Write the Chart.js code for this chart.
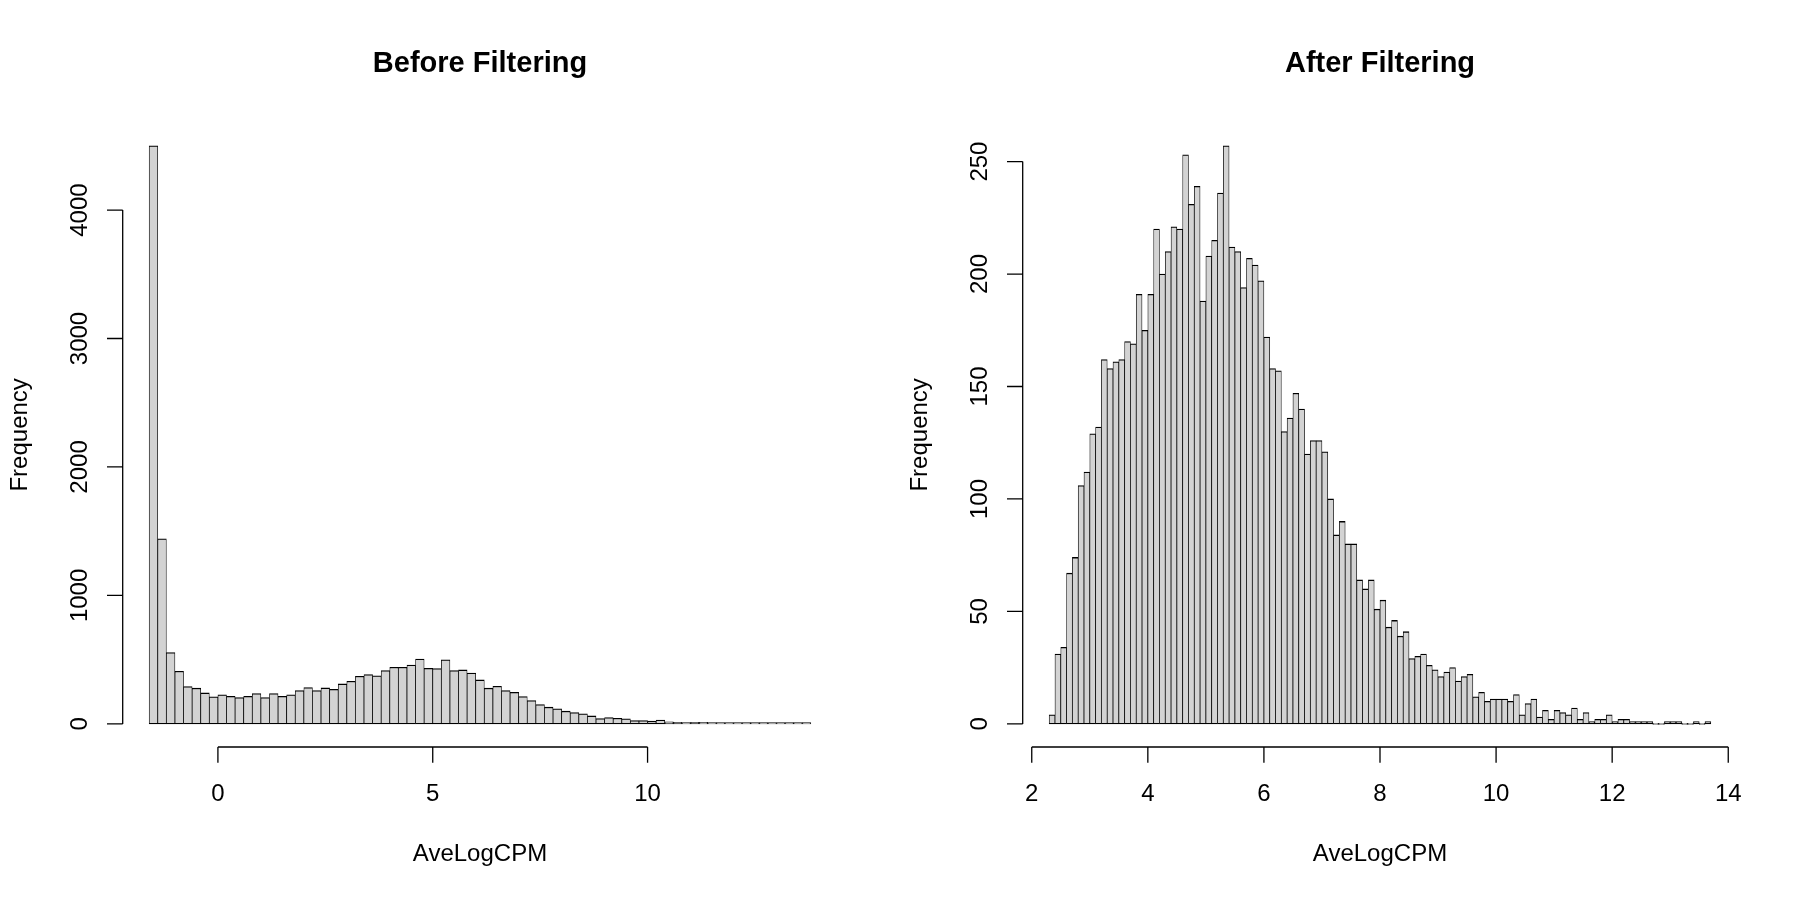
<!DOCTYPE html>
<html>
<head>
<meta charset="utf-8">
<script src="https://cdn.jsdelivr.net/npm/chart.js@4.4.1/dist/chart.umd.min.js"></script>
<style>
  html, body { margin: 0; padding: 0; background: #fff; }
  #wrap { position: relative; width: 1800px; height: 900px; }
  canvas { position: absolute; top: 0; }
</style>
</head>
<body>
<div id="wrap">
  <canvas id="beforeChart" width="900" height="900" style="left:0"></canvas>
  <canvas id="afterChart" width="900" height="900" style="left:900px"></canvas>
</div>
<script>
// histogram bins: first break and bin width
const beforeStart = -1.6;
const beforeBinWidth = 0.2;
const beforeCounts = [4500, 1440, 555, 410, 290, 278, 241, 210, 226, 215,
    205, 215, 236, 205, 236, 215, 226, 259, 283, 259,
    280, 269, 311, 332, 371, 384, 374, 415, 441, 441,
    458, 504, 432, 430, 499, 415, 420, 396, 342, 278,
    293, 259, 246, 212, 181, 150, 130, 117, 99, 88,
    78, 62, 41, 49, 44, 39, 26, 26, 21, 29,
    16, 13, 8, 13, 12, 9, 6, 8, 8, 7,
    3, 3, 3, 5, 2, 2, 2];
const beforeXTicks = [0, 5, 10];
const beforeYTicks = [0, 1000, 2000, 3000, 4000];

const afterStart = 2.3;
const afterBinWidth = 0.1;
const afterCounts = [4, 31, 34, 67, 74, 106, 112, 129, 132, 162,
    158, 161, 162, 170, 169, 191, 175, 191, 220, 200,
    210, 221, 220, 253, 231, 239, 188, 208, 215, 236,
    257, 212, 210, 194, 207, 204, 197, 172, 158, 157,
    130, 136, 147, 140, 120, 126, 126, 121, 100, 84,
    90, 80, 80, 64, 60, 64, 51, 55, 43, 46,
    39, 41, 29, 30, 31, 26, 24, 21, 23, 25,
    19, 21, 22, 12, 14, 10, 11, 11, 11, 10,
    13, 4, 9, 11, 3, 6, 2, 6, 5, 4,
    7, 2, 5, 1, 2, 2, 4, 1, 2, 2,
    1, 1, 1, 1, 0, 0, 1, 1, 1, 0,
    0, 1, 0, 1];
const afterXTicks = [2, 4, 6, 8, 10, 12, 14];
const afterYTicks = [0, 50, 100, 150, 200, 250];

const FONT = '"Liberation Sans", Arial, Helvetica, sans-serif';
const TICK_LEN = 15.7;

function binPoints(start, width, counts) {
    return counts.map((c, i) => ({ x: start + width * i + width / 2, y: c }));
}

// R style axes: detached lines spanning first..last tick, labels parallel to axis
const rAxes = {
    id: 'rAxes',
    afterDraw(chart) {
        const opts = chart.options.plugins.rAxes;
        const ctx = chart.ctx;
        const xs = chart.scales.x;
        const ys = chart.scales.y;
        const area = chart.chartArea;
        const xt = opts.xTicks, yt = opts.yTicks;

        ctx.save();
        ctx.strokeStyle = '#000';
        ctx.lineWidth = 1.3;
        ctx.beginPath();
        ctx.moveTo(xs.getPixelForValue(xt[0]), area.bottom);
        ctx.lineTo(xs.getPixelForValue(xt[xt.length - 1]), area.bottom);
        xt.forEach(v => {
            const px = xs.getPixelForValue(v);
            ctx.moveTo(px, area.bottom);
            ctx.lineTo(px, area.bottom + TICK_LEN);
        });
        ctx.moveTo(area.left, ys.getPixelForValue(yt[0]));
        ctx.lineTo(area.left, ys.getPixelForValue(yt[yt.length - 1]));
        yt.forEach(v => {
            const py = ys.getPixelForValue(v);
            ctx.moveTo(area.left, py);
            ctx.lineTo(area.left - TICK_LEN, py);
        });
        ctx.stroke();

        ctx.fillStyle = '#000';
        ctx.font = '24px ' + FONT;
        ctx.textAlign = 'center';
        ctx.textBaseline = 'alphabetic';
        xt.forEach(v => {
            ctx.fillText(String(v), xs.getPixelForValue(v), area.bottom + 54);
        });
        yt.forEach(v => {
            ctx.save();
            ctx.translate(area.left - 35.5, ys.getPixelForValue(v));
            ctx.rotate(-Math.PI / 2);
            ctx.fillText(String(v), 0, 0);
            ctx.restore();
        });

        const cx = (area.left + area.right) / 2;
        const cy = (area.top + area.bottom) / 2;
        ctx.fillText(opts.xlab, cx, area.bottom + 113.7);
        ctx.save();
        ctx.translate(26.5, cy);
        ctx.rotate(-Math.PI / 2);
        ctx.fillText(opts.ylab, 0, 0);
        ctx.restore();

        ctx.font = 'bold 29px ' + FONT;
        ctx.fillText(opts.title, cx, 71.7);
        ctx.restore();
    }
};

function makeHist(canvasId, title, start, width, counts, xTicks, yTicks) {
    const lo = start;
    const hi = start + width * counts.length;
    const xPad = (hi - lo) * 0.04;
    const yMax = Math.max(...counts);
    return new Chart(document.getElementById(canvasId), {
        type: 'bar',
        data: {
            datasets: [{
                data: binPoints(start, width, counts),
                backgroundColor: '#d3d3d3',
                borderColor: '#000',
                borderWidth: { top: 1.3, bottom: 1.3, left: 0.75, right: 0.75 },
                borderSkipped: false,
                minBarLength: 1.3,   // empty bins still show as a line on the baseline, like R
                categoryPercentage: 1,
                barPercentage: 1
            }]
        },
        options: {
            responsive: false,
            animation: false,
            devicePixelRatio: 1,
            layout: {
                padding: { left: 122.7, right: 62.7, top: 122.7, bottom: 153 }
            },
            scales: {
                x: {
                    type: 'linear',
                    display: false,
                    offset: false,
                    grid: { offset: false },
                    min: lo - xPad,
                    max: hi + xPad,
                    afterBuildTicks: scale => {
                        scale.ticks = xTicks.map(v => ({ value: v }));
                    }
                },
                y: {
                    display: false,
                    min: -yMax * 0.04,
                    max: yMax * 1.04,
                    afterBuildTicks: scale => {
                        scale.ticks = yTicks.map(v => ({ value: v }));
                    }
                }
            },
            plugins: {
                legend: { display: false },
                tooltip: { enabled: false },
                rAxes: {
                    title: title,
                    xlab: 'AveLogCPM',
                    ylab: 'Frequency',
                    xTicks: xTicks,
                    yTicks: yTicks
                }
            }
        },
        plugins: [rAxes]
    });
}

makeHist('beforeChart', 'Before Filtering', beforeStart, beforeBinWidth, beforeCounts, beforeXTicks, beforeYTicks);
makeHist('afterChart', 'After Filtering', afterStart, afterBinWidth, afterCounts, afterXTicks, afterYTicks);
</script>
</body>
</html>
